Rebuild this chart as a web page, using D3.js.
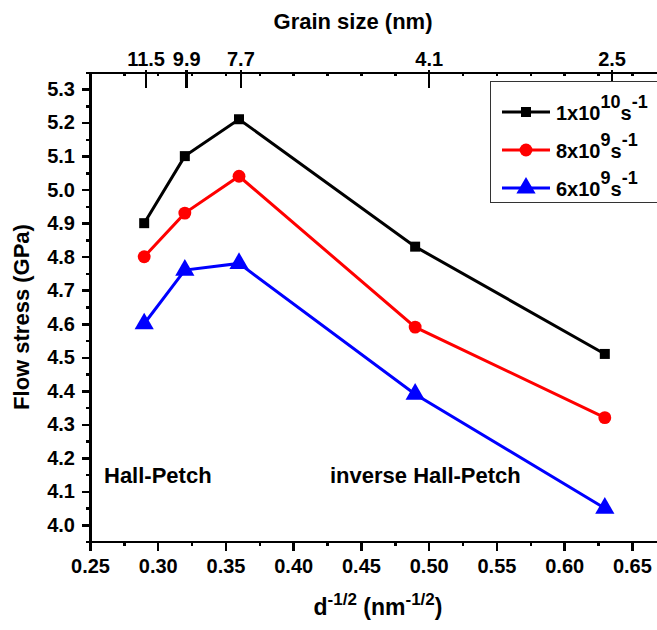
<!DOCTYPE html>
<html>
<head>
    <meta charset="utf-8">
    <title>Flow stress vs grain size</title>
    <script src="https://d3js.org/d3.v7.min.js"></script>
</head>
<style>
    body {
        margin: 0;
        background: #fff;
    }

    text {
        font-family: "Liberation Sans", Arial, sans-serif;
        font-weight: bold;
        fill: #000;
    }

    .axis path,
    .axis line {
        stroke: #000;
        stroke-width: 2.5px;
        shape-rendering: crispEdges;
    }

    .axis text {
        font-size: 20px;
    }
</style>
<body>
    <svg id="chart"></svg>
    <script>
        // data
        var invSqrtD = [0.29, 0.32, 0.36, 0.49, 0.63];
        var stressA = [4.90, 5.10, 5.21, 4.83, 4.51]; // 1x10^10 s^-1
        var stressB = [4.80, 4.93, 5.04, 4.59, 4.32]; // 8x10^9 s^-1
        var stressC = [4.60, 4.76, 4.78, 4.39, 4.05]; // 6x10^9 s^-1

        var rateBase = ["1x10", "8x10", "6x10"];
        var rateExp = ["10", "9", "9"];
        var seriesColors = ["#000000", "#ff0000", "#0000ff"];
        var seriesShapes = [d3.symbolSquare, d3.symbolCircle, d3.symbolTriangle];
        var symbolSizes = [100, 130, 160];

        // top axis: grain size labels and where their ticks sit (in d^-1/2)
        var grainLabels = ["11.5", "9.9", "7.7", "4.1", "2.5"];
        var grainTickX = [0.291, 0.321, 0.361, 0.500, 0.635];

        var xTicks = [0.25, 0.30, 0.35, 0.40, 0.45, 0.50, 0.55, 0.60, 0.65];
        var xMinor = [0.275, 0.325, 0.375, 0.425, 0.475, 0.525, 0.575, 0.625];
        var yTicks = [4.0, 4.1, 4.2, 4.3, 4.4, 4.5, 4.6, 4.7, 4.8, 4.9, 5.0, 5.1, 5.2, 5.3];
        var yMinor = [3.95, 4.05, 4.15, 4.25, 4.35, 4.45, 4.55, 4.65, 4.75, 4.85, 4.95, 5.05, 5.15, 5.25, 5.35];

        var W = 657, H = 630;
        var plotL = 90, plotR = 659, plotT = 72.3, plotB = 541.7;

        var svg = d3.select("#chart")
            .attr("width", W)
            .attr("height", H);

        var x = d3.scaleLinear().domain([0.25, 0.67]).range([plotL, plotR]);
        var y = d3.scaleLinear().domain([3.95, 5.35]).range([plotB, plotT]);

        // bottom axis
        svg.append("g")
            .attr("class", "axis")
            .attr("transform", "translate(0," + plotB + ")")
            .call(d3.axisBottom(x).tickValues(xTicks).tickFormat(d3.format(".2f"))
                .tickSizeInner(9).tickSizeOuter(0).tickPadding(8));
        svg.append("g")
            .attr("class", "axis")
            .attr("transform", "translate(0," + plotB + ")")
            .call(d3.axisBottom(x).tickValues(xMinor).tickFormat("").tickSizeInner(4).tickSizeOuter(0))
            .select(".domain").remove();

        // left axis
        svg.append("g")
            .attr("class", "axis")
            .attr("transform", "translate(" + plotL + ",0)")
            .call(d3.axisLeft(y).tickValues(yTicks).tickFormat(d3.format(".1f"))
                .tickSizeInner(8).tickSizeOuter(0).tickPadding(7));
        svg.append("g")
            .attr("class", "axis")
            .attr("transform", "translate(" + plotL + ",0)")
            .call(d3.axisLeft(y).tickValues(yMinor).tickFormat("").tickSizeInner(4).tickSizeOuter(0))
            .select(".domain").remove();

        // top axis: small ticks pointing in, then the grain size ticks
        svg.append("g")
            .attr("class", "axis")
            .attr("transform", "translate(0," + plotT + ")")
            .call(d3.axisTop(x).tickValues(xTicks.concat(xMinor)).tickFormat("")
                .tickSizeInner(-4).tickSizeOuter(0));
        var gTop = svg.append("g")
            .attr("class", "axis")
            .attr("transform", "translate(0," + plotT + ")")
            .call(d3.axisTop(x).tickValues(grainTickX)
                .tickFormat(function(d, i) { return grainLabels[i]; })
                .tickSizeInner(-16).tickSizeOuter(0).tickPadding(6));
        gTop.select(".domain").remove();
        gTop.selectAll("line").attr("y1", -2);

        // axis titles
        svg.append("text")
            .attr("x", 353)
            .attr("y", 29)
            .attr("text-anchor", "middle")
            .style("font-size", "22px")
            .text("Grain size (nm)");

        svg.append("text")
            .attr("transform", "translate(29," + ((plotT + plotB) / 2 + 10) + ") rotate(-90)")
            .attr("text-anchor", "middle")
            .style("font-size", "22px")
            .text("Flow stress (GPa)");

        var xt = svg.append("text")
            .attr("x", 378)
            .attr("y", 615)
            .attr("text-anchor", "middle")
            .style("font-size", "23px");
        xt.append("tspan").text("d");
        xt.append("tspan").attr("dy", -10).style("font-size", "17px").text("-1/2");
        xt.append("tspan").attr("dy", 10).text(" (nm");
        xt.append("tspan").attr("dy", -10).style("font-size", "17px").text("-1/2");
        xt.append("tspan").attr("dy", 10).text(")");

        // regime labels
        svg.append("text")
            .attr("x", 104)
            .attr("y", 483)
            .style("font-size", "22px")
            .text("Hall-Petch");
        svg.append("text")
            .attr("x", 330)
            .attr("y", 483)
            .style("font-size", "22px")
            .text("inverse Hall-Petch");

        // series
        var series = [stressA, stressB, stressC];
        var line = d3.line()
            .x(function(d, i) { return x(invSqrtD[i]); })
            .y(function(d) { return y(d); });

        series.forEach(function(vals, s) {
            svg.append("path")
                .datum(vals)
                .attr("fill", "none")
                .attr("stroke", seriesColors[s])
                .attr("stroke-width", 3)
                .attr("d", line);

            svg.selectAll(".pt" + s)
                .data(vals)
                .enter()
                .append("path")
                .attr("class", "pt" + s)
                .attr("d", d3.symbol().type(seriesShapes[s]).size(symbolSizes[s]))
                .attr("transform", function(d, i) {
                    return "translate(" + x(invSqrtD[i]) + "," + y(d) + ")";
                })
                .attr("fill", seriesColors[s]);
        });

        // legend
        var lg = svg.append("g");
        lg.append("rect")
            .attr("x", 490.5)
            .attr("y", 81.5)
            .attr("width", 200)
            .attr("height", 121)
            .attr("fill", "#fff")
            .attr("stroke", "#333")
            .attr("stroke-width", 1);

        var rowY = [112, 150, 188];
        rateBase.forEach(function(b, s) {
            var ry = rowY[s];
            lg.append("line")
                .attr("x1", 502).attr("x2", 550)
                .attr("y1", ry).attr("y2", ry)
                .attr("stroke", seriesColors[s])
                .attr("stroke-width", 3);
            lg.append("path")
                .attr("d", d3.symbol().type(seriesShapes[s]).size(symbolSizes[s]))
                .attr("transform", "translate(526," + ry + ")")
                .attr("fill", seriesColors[s]);
            var t = lg.append("text")
                .attr("x", 556)
                .attr("y", ry + 8)
                .style("font-size", "20px");
            t.append("tspan").text(b);
            t.append("tspan").attr("dy", -12).style("font-size", "18px").text(rateExp[s]);
            t.append("tspan").attr("dy", 12).text("s");
            t.append("tspan").attr("dy", -12).style("font-size", "18px").text("-1");
        });
    </script>
</body>
</html>
